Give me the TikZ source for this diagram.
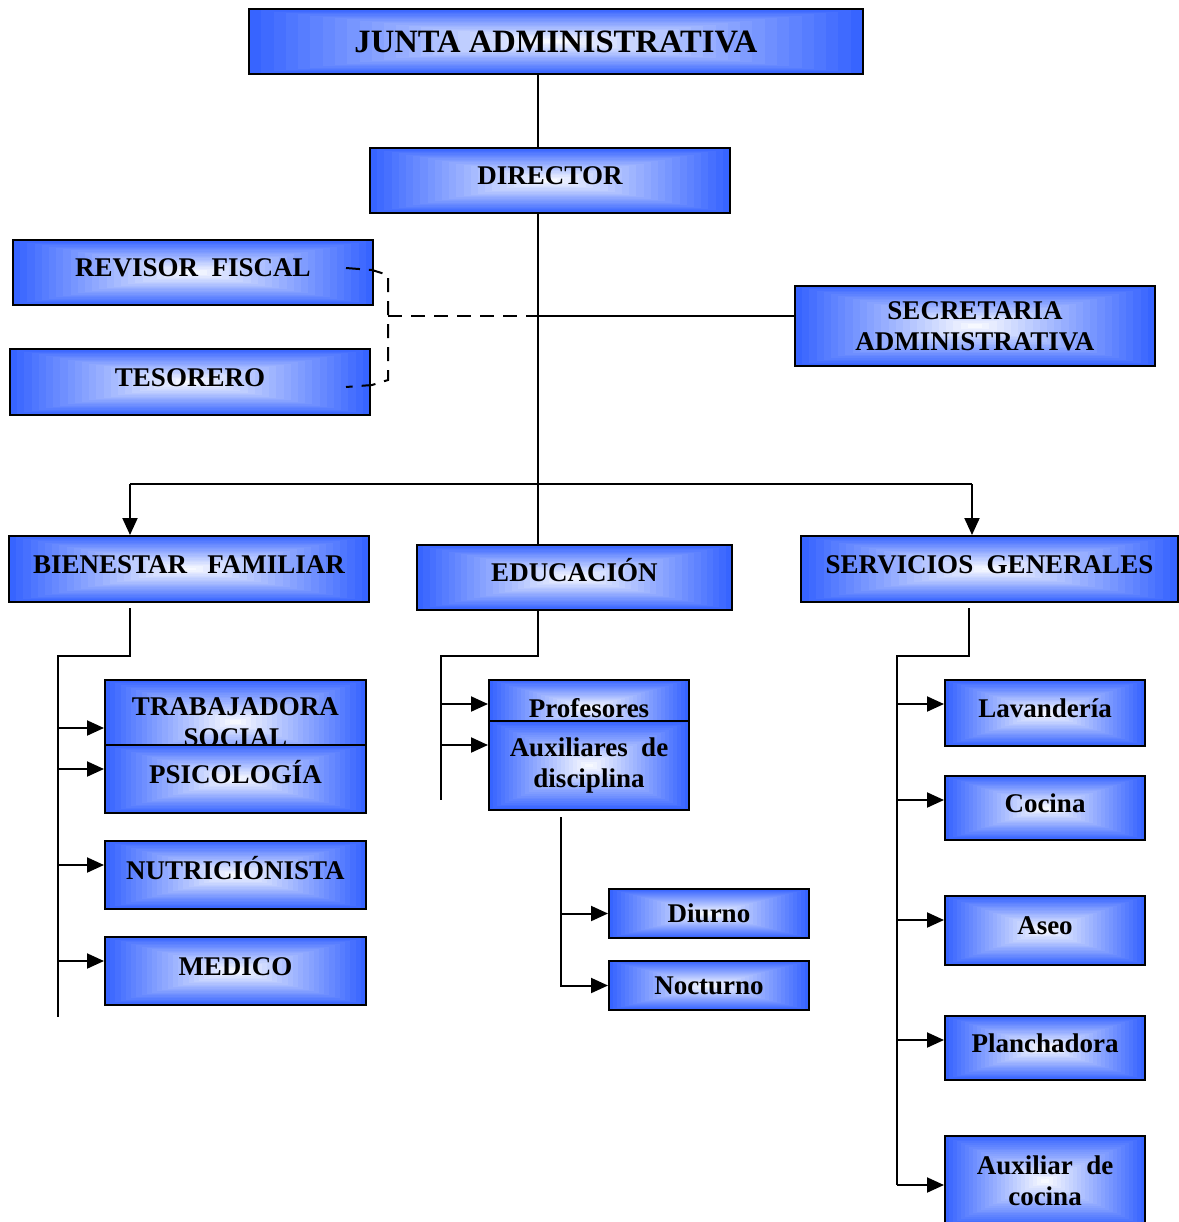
\documentclass[tikz,border=0pt]{standalone}
\usepackage{fontspec}
\setmainfont{Liberation Serif}
\usetikzlibrary{arrows.meta,calc}
\definecolor{boxblue}{RGB}{55,100,255}

\begin{document}
\begin{tikzpicture}[x=0.5pt,y=-0.5pt,line width=1pt,
  org box/.style={rectangle,draw,line width=1pt,inner sep=2pt,align=center,
    font=\fontsize{13.5}{15.5}\selectfont\bfseries,
    path picture={
      \foreach \k in {0,...,24}{
        \pgfmathsetmacro\shadefrac{1-\k/25}
        \pgfmathsetmacro\shadepct{100*\shadefrac}
        \fill[boxblue!\shadepct!white]
          ($(path picture bounding box.center)!\shadefrac!(path picture bounding box.south west)$)
          rectangle
          ($(path picture bounding box.center)!\shadefrac!(path picture bounding box.north east)$);
      }}},
  raised text/.style={text height=9pt,text depth=5pt},
  arrow line/.style={-{Triangle[length=8.5pt,width=7.5pt]}},
  dash line/.style={dash pattern=on 7pt off 4.5pt}]

  \useasboundingbox (0,0) rectangle (1179,1222);

  % top of the chart
  \node[org box,minimum width=307pt,minimum height=32.5pt,font=\fontsize{16.3}{18}\selectfont\bfseries] (junta) at (556,41.5) {JUNTA ADMINISTRATIVA};
  \node[org box,raised text,minimum width=180pt,minimum height=32.5pt] (director) at (550,180.5) {DIRECTOR};
  \node[org box,raised text,minimum width=180pt,minimum height=32.5pt] (revisor) at (193,272.5) {REVISOR\ \ FISCAL};
  \node[org box,raised text,minimum width=180pt,minimum height=33pt] (tesorero) at (190,382) {TESORERO};
  \node[org box,minimum width=180pt,minimum height=40pt] (secre) at (975,326) {SECRETARIA\\ADMINISTRATIVA};

  % departments
  \node[org box,raised text,minimum width=180pt,minimum height=33pt] (bien) at (189,569) {BIENESTAR\ \ \ FAMILIAR};
  \node[org box,raised text,minimum width=157.5pt,minimum height=32.5pt] (educ) at (574.5,577.5) {EDUCACIÓN};
  \node[org box,raised text,minimum width=188.5pt,minimum height=33pt] (serv) at (989.5,569) {SERVICIOS\ \ GENERALES};

  % bienestar familiar
  \node[org box,minimum width=130.5pt,minimum height=42pt] (trab) at (235.5,722) {TRABAJADORA\\SOCIAL};
  \node[org box,raised text,minimum width=130.5pt,minimum height=34pt] (psico) at (235.5,779) {PSICOLOGÍA};
  \node[org box,raised text,minimum width=130.5pt,minimum height=34pt] (nutri) at (235.5,875) {NUTRICIÓNISTA};
  \node[org box,raised text,minimum width=130.5pt,minimum height=34pt] (medico) at (235.5,971) {MEDICO};

  % educacion
  \node[org box,minimum width=100pt,minimum height=28pt] (prof) at (589,708) {Profesores};
  \node[org box,minimum width=100pt,minimum height=44.5pt] (auxdis) at (589,765.5) {Auxiliares\ \ de\\disciplina};
  \node[org box,minimum width=100pt,minimum height=24.5pt] (diurno) at (709,913.5) {Diurno};
  \node[org box,minimum width=100pt,minimum height=24.5pt] (noct) at (709,985.5) {Nocturno};

  % servicios generales
  \node[org box,raised text,minimum width=100pt,minimum height=33pt] (lav) at (1045,713) {Lavandería};
  \node[org box,raised text,minimum width=100pt,minimum height=32pt] (cocina) at (1045,808) {Cocina};
  \node[org box,raised text,minimum width=100pt,minimum height=34.5pt] (aseo) at (1045,930.5) {Aseo};
  \node[org box,raised text,minimum width=100pt,minimum height=32pt] (planch) at (1045,1048) {Planchadora};
  \node[org box,minimum width=100pt,minimum height=45pt] (auxcoc) at (1045,1181) {Auxiliar\ \ de\\cocina};

  \coordinate (trunk) at (538,316);
  \coordinate (dashjoin) at (388,316);
  \coordinate (leftdrop) at (130,484);
  \coordinate (rightdrop) at (972,484);
  \coordinate (revend) at (346,268);
  \coordinate (tesend) at (346,387);

  \draw (junta.south -| trunk) -- (director.north -| trunk);
  \draw (director.south -| trunk) -- (educ.north -| trunk);
  \draw (trunk) -- (secre.west |- trunk);
  \draw[dash line] (revend) -- (372,270) -- (388,275) -- (388,380) -- (372,385) -- (tesend);
  \draw[dash line] (dashjoin) -- (trunk);
  \draw (leftdrop) -- (rightdrop);
  \draw[arrow line] (leftdrop) -- (leftdrop |- bien.north);
  \draw[arrow line] (rightdrop) -- (rightdrop |- serv.north);

  \coordinate (bienout) at (130,608);
  \coordinate (bienbus) at (58,656);
  \coordinate (bienend) at (58,1017);
  \draw (bienout) |- (bienbus) -- (bienend);
  \foreach \n/\y in {trab/728,psico/769,nutri/865,medico/961}
    \draw[arrow line] (bienbus |- 0,\y) -- (\n.west |- 0,\y);

  \coordinate (educbus) at (441,656);
  \coordinate (educend) at (441,800);
  \draw (educ.south -| trunk) |- (educbus) -- (educend);
  \foreach \n/\y in {prof/704,auxdis/745}
    \draw[arrow line] (educbus |- 0,\y) -- (\n.west |- 0,\y);

  \coordinate (auxout) at (561,817);
  \draw[arrow line] (auxout) |- (noct.west);
  \draw[arrow line] (auxout |- diurno.west) -- (diurno.west);

  \coordinate (servout) at (969,608);
  \coordinate (servbus) at (897,656);
  \coordinate (servend) at (897,1185);
  \draw (servout) |- (servbus) -- (servend);
  \foreach \n/\y in {lav/704,cocina/800,aseo/920,planch/1040,auxcoc/1185}
    \draw[arrow line] (servbus |- 0,\y) -- (\n.west |- 0,\y);
\end{tikzpicture}
\end{document}
